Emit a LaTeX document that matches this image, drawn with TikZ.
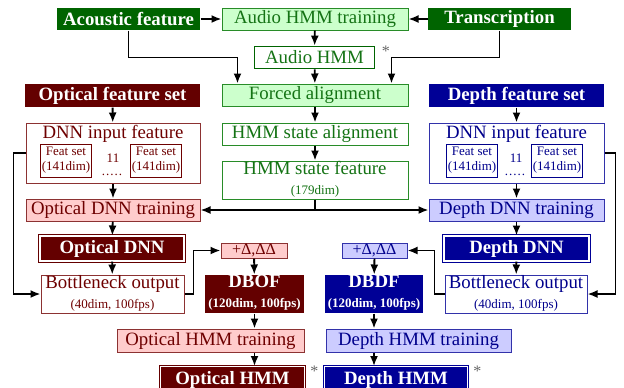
\documentclass[tikz,border=0pt]{standalone}
\usepackage{fontspec}
\setmainfont{Liberation Serif}
\usetikzlibrary{arrows.meta}
\usetikzlibrary{calc}
\usetikzlibrary{positioning}

\definecolor{accdark}{RGB}{0,100,0}
\definecolor{acclight}{RGB}{204,255,204}
\definecolor{accline}{RGB}{40,140,40}
\definecolor{acctext}{RGB}{20,115,20}
\definecolor{optdark}{RGB}{100,0,0}
\definecolor{optlight}{RGB}{255,204,204}
\definecolor{optline}{RGB}{140,50,50}
\definecolor{opttext}{RGB}{110,0,0}
\definecolor{depdark}{RGB}{0,0,150}
\definecolor{deplight}{RGB}{204,204,255}
\definecolor{depline}{RGB}{50,50,170}
\definecolor{deptext}{RGB}{0,0,140}

\newcommand{\mainsize}{\fontsize{9.4}{10.5}\selectfont}
\newcommand{\subsize}{\fontsize{6.5}{7.5}\selectfont}
\newcommand{\deltasize}{\fontsize{8}{9}\selectfont}
\newcommand{\dotrow}{.\hspace{0.5pt}.\hspace{0.5pt}.\hspace{0.5pt}.\hspace{0.5pt}.}

\tikzset{
  box/.style={rectangle,inner sep=0pt,align=center,font=\mainsize,line width=0.5pt},
  titlebox/.style={box,fill=#1dark,text=white,font=\mainsize\bfseries},
  palebox/.style={box,fill=#1light,draw=#1line,text=#1text},
  openbox/.style={box,fill=white,draw=#1line,text=#1text},
  netbox/.style={box,fill=#1dark,draw=#1dark,double=white,double distance=0.6pt,text=white,font=\mainsize\bfseries},
  featbox/.style={box,fill=white,draw=#1text,text=#1text,font=\subsize,minimum width=25.5pt,minimum height=16.5pt},
  arr/.style={-{Latex[length=5pt,width=4pt]},line width=0.9pt},
  notestar/.style={text=gray!80!black,font=\fontsize{8}{9}\selectfont,inner sep=0pt}
}

\begin{document}
\begin{tikzpicture}[x=0.5pt,y=-0.5pt]
\useasboundingbox (0,0) rectangle (624,387);

% audio column
\node[titlebox=acc,minimum width=71.5pt,minimum height=11pt] (acoustic) at (128.5,19) {Acoustic feature};
\node[palebox=acc,minimum width=93pt,minimum height=11pt] (audiotrain) at (315,19) {Audio HMM training};
\node[titlebox=acc,minimum width=71.5pt,minimum height=11pt] (transcr) at (499.5,19) {Transcription};
\node[openbox=acc,draw=accdark,line width=0.9pt,minimum width=60pt,minimum height=11pt] (audiohmm) at (314.5,57.5) {Audio HMM};
\node[notestar,right=3pt of audiohmm.north east,anchor=north west] (audiostar) {*};
\node[palebox=acc,minimum width=93pt,minimum height=11pt] (forced) at (315,95) {Forced alignment};
\node[openbox=acc,minimum width=93pt,minimum height=11pt] (stalign) at (315,134) {HMM state alignment};
\node[openbox=acc,minimum width=93pt,minimum height=19pt] (stfeat) at (315,180) {HMM state feature\\[-0.5pt]{\subsize (179dim)\strut}};

% optical column
\node[titlebox=opt,minimum width=87.5pt,minimum height=11.5pt] (optset) at (112.5,95.5) {Optical feature set};
\node[openbox=opt,minimum width=87pt,minimum height=30pt] (optin) at (113,153) {};
\node[box,text=opttext] (optintitle) at (113,134) {DNN input feature};
\node[featbox=opt] (optfeata) at (66,160.5) {Feat set\\(141dim)};
\node[featbox=opt] (optfeatb) at (156,160.5) {Feat set\\(141dim)};
\node[box,text=opttext,font=\subsize] (optcount) at (113,158) {11};
\node[box,text=opttext,font=\subsize] (optdots) at (112,175) {\dotrow};
\node[palebox=opt,minimum width=87pt,minimum height=11pt] (opttrain) at (113,210) {Optical DNN training};
\node[netbox=opt,minimum width=72pt,minimum height=12.5pt] (optdnn) at (112,248.5) {Optical DNN};
\node[openbox=opt,minimum width=71.5pt,minimum height=19pt] (optbn) at (112.5,294) {Bottleneck output\\[-0.5pt]{\subsize (40dim, 100fps)\strut}};
\node[palebox=opt,font=\deltasize,minimum width=33pt,minimum height=7.5pt] (optdelta) at (254,250.5) {+Δ,ΔΔ};
\node[titlebox=opt,minimum width=49.5pt,minimum height=19pt] (dbof) at (254.5,294) {DBOF\\[-0.5pt]{\subsize\bfseries (120dim, 100fps)\strut}};
\node[palebox=opt,minimum width=93.5pt,minimum height=11.5pt] (opthmmtrain) at (210.5,340.5) {Optical HMM training};
\node[netbox=opt,minimum width=72pt,minimum height=13.5pt] (opthmm) at (232.5,380) {Optical HMM};
\node[notestar,right=2.5pt of opthmm.north east,anchor=north west] (optstar) {*};

% depth column
\node[titlebox=dep,minimum width=87.5pt,minimum height=11.5pt] (depset) at (516.5,95.5) {Depth feature set};
\node[openbox=dep,minimum width=87.5pt,minimum height=30pt] (depin) at (516.5,153) {};
\node[box,text=deptext] (depintitle) at (516.5,134) {DNN input feature};
\node[featbox=dep] (depfeata) at (472,160.5) {Feat set\\(141dim)};
\node[featbox=dep] (depfeatb) at (557,160.5) {Feat set\\(141dim)};
\node[box,text=deptext,font=\subsize] (depcount) at (516,158) {11};
\node[box,text=deptext,font=\subsize] (depdots) at (515,175) {\dotrow};
\node[palebox=dep,minimum width=87.5pt,minimum height=11pt] (deptrain) at (516.5,210) {Depth DNN training};
\node[netbox=dep,minimum width=72.5pt,minimum height=12.5pt] (depdnn) at (516.5,248.5) {Depth DNN};
\node[openbox=dep,minimum width=71pt,minimum height=19pt] (depbn) at (516,294) {Bottleneck output\\[-0.5pt]{\subsize (40dim, 100fps)\strut}};
\node[palebox=dep,font=\deltasize,minimum width=32.5pt,minimum height=7.5pt] (depdelta) at (374.5,250.5) {+Δ,ΔΔ};
\node[titlebox=dep,minimum width=49pt,minimum height=19pt] (dbdf) at (374,294) {DBDF\\[-0.5pt]{\subsize\bfseries (120dim, 100fps)\strut}};
\node[palebox=dep,minimum width=92.5pt,minimum height=11.5pt] (dephmmtrain) at (418.5,340.5) {Depth HMM training};
\node[netbox=dep,minimum width=71.5pt,minimum height=13.5pt] (dephmm) at (396,380) {Depth HMM};
\node[notestar,right=2.5pt of dephmm.north east,anchor=north west] (depstar) {*};

% connectors
\draw[arr] (acoustic) -- (audiotrain);
\draw[arr] (transcr) -- (audiotrain);
\draw[arr] (audiotrain) -- (audiohmm);
\draw[arr] (audiohmm) -- (forced);
\draw[arr] (forced) -- (stalign);
\draw[arr] (stalign) -- (stfeat);
\draw[arr] (acoustic.south) -- ++(0,27) -| ($(forced.north west)+(16,0)$);
\draw[arr] (transcr.south) -- ++(0,27) -| ($(forced.north east)+(-17,0)$);
\draw[arr] (stfeat.south) |- (opttrain.east);
\draw[arr] (stfeat.south) |- (deptrain.west);

\draw[arr] (optset) -- (optin);
\draw[arr] (optin) -- (opttrain);
\draw[arr] (opttrain) -- (optdnn);
\draw[arr] (optdnn) -- (optbn);
\draw[arr] (optin.west) -- ++(-12,0) |- (optbn.west);
\draw[arr] (optbn.east) -- ++(9,0) |- (optdelta.west);
\draw[arr] (optdelta) -- (dbof);
\draw[arr] (dbof.south) -- (dbof.south |- opthmmtrain.north);
\draw[arr] (opthmmtrain.south -| dbof.south) -- (opthmm.north -| dbof.south);

\draw[arr] (depset) -- (depin);
\draw[arr] (depin) -- (deptrain);
\draw[arr] (deptrain) -- (depdnn);
\draw[arr] (depdnn) -- (depbn);
\draw[arr] (depin.east) -- ++(11,0) |- (depbn.east);
\draw[arr] (depbn.west) -- ++(-10,0) |- (depdelta.east);
\draw[arr] (depdelta) -- (dbdf);
\draw[arr] (dbdf.south) -- (dbdf.south |- dephmmtrain.north);
\draw[arr] (dephmmtrain.south -| dbdf.south) -- (dephmm.north -| dbdf.south);
\end{tikzpicture}
\end{document}
